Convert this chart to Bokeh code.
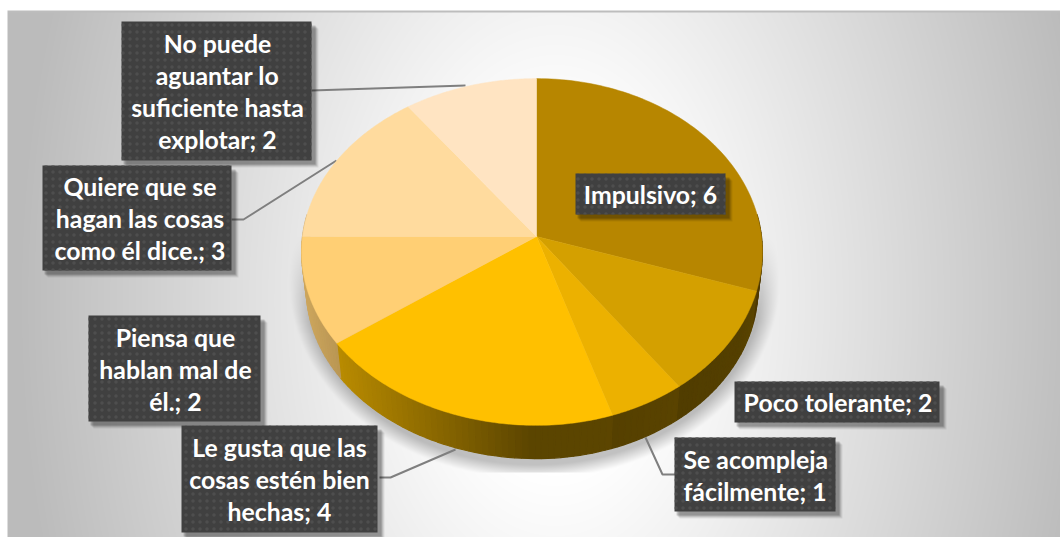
import numpy as np
from bokeh.plotting import figure
from bokeh.models import Range1d
from bokeh.core.properties import value as bk_value
from bokeh.embed import file_html
from bokeh.resources import INLINE

# ---- data ----
categories = ["Impulsivo", "Poco tolerante", "Se acompleja fácilmente",
              "Le gusta que las cosas estén bien hechas", "Piensa que hablan mal de él.",
              "Quiere que se hagan las cosas como él dice.",
              "No puede aguantar lo suficiente hasta explotar"]
values = [6, 2, 1, 4, 2, 3, 2]
slice_colors = ["#b78600", "#d4a000", "#ecb100", "#ffc000", "#ffcf74", "#ffdb9e", "#ffe4c2"]
label_lines = [
    ["Impulsivo; 6"],
    ["Poco tolerante; 2"],
    ["Se acompleja", "fácilmente; 1"],
    ["Le gusta que las", "cosas estén bien", "hechas; 4"],
    ["Piensa que", "hablan mal de", "él.; 2"],
    ["Quiere que se", "hagan las cosas", "como él dice.; 3"],
    ["No puede", "aguantar lo", "suficiente hasta", "explotar; 2"],
]
label_boxes = [(575, 725, 173, 214), (734, 939, 381, 422), (674, 835, 437, 511),
               (181, 377, 425, 532), (88, 260, 315, 421), (42, 231, 165, 270), (121, 311, 21, 160)]
label_align = ["center", "center", "left", "center", "center", "center", "center"]
label_dx = [0, 1, 0, 0, 1, 3, 1]
leaders = [
    ([311, 465], [90, 85]),
    ([231, 243, 336], [219, 219, 160]),
    ([379, 390, 455], [477, 477, 449]),
    ([645, 662, 675], [437, 474, 474]),
]

W, H = 1060, 537
OX, OY = 0, 0
def Y(y):
    return (H + OY) - np.asarray(y, dtype=float)

p = figure(width=W, height=H, output_backend="svg", toolbar_location=None,
           x_range=Range1d(OX, OX + W), y_range=Range1d(0, H), min_border=0)
p.axis.visible = False
p.grid.visible = False
p.outline_line_color = None
p.background_fill_color = "white"
p.border_fill_color = "white"

# ---- background image with gradient + pie shadow ----
xs = np.arange(W) + OX + 0.5
ys = np.arange(H) + OY + 0.5
XX, YY = np.meshgrid(xs, ys)
R = np.sqrt(((XX - 555) / 505) ** 2 + ((YY - 300) / 800) ** 2)
t = np.clip((R - 0.22) / 0.85, 0, 1)
g = 255 - 68 * t
# shadow
es = np.sqrt(((XX - 534) / 245) ** 2 + ((YY - 282) / 196) ** 2)
s = np.clip((1.0 - es) / 0.07, 0, 1)
s *= np.clip((YY - 232) / 90, 0, 1)
s[YY > 471.5] = 0
g = g * (1 - 0.24 * s)
g[YY < 12.5] = 189
g[YY < 10] = 255
g[XX < 7] = 255
gi = np.clip(g, 0, 255).astype(np.uint32)
img = (255 << 24) | (gi << 16) | (gi << 8) | gi
img = img[::-1].astype(np.uint32)  # row 0 = bottom of the data range
p.image_rgba(image=[img], x=[OX], y=[0], dw=[W], dh=[H])

# ---- pie projection ----
CX, CY, A, K = 536.0, 236.0, 172.0, 0.0893
B_RIGHT, B_LEFT = 225.0, 234.0
DROP, SCALE = 37.0, 0.98
def project(theta, bottom=False):
    sn, cs = np.sin(theta), np.cos(theta)
    w = 1 + K * cs
    dx, dy = np.where(sn >= 0, B_RIGHT, B_LEFT) * sn / w, -A * cs / w
    if bottom:
        return CX + SCALE * dx, CY + DROP + SCALE * dy
    return CX + dx, CY + dy

edges = np.concatenate([[0], np.cumsum(values)]) / sum(values) * 2 * np.pi

def hex_rgb(h):
    return np.array([int(h[i:i + 2], 16) for i in (1, 3, 5)], dtype=float)

# leader lines under the pie
for lx, ly in leaders:
    p.line(lx, Y(ly), line_color="#7f7f7f", line_width=2)

# side wall: narrow quads shaded along x
wall_x, wall_y, wall_c = [], [], []
for i, col in enumerate(slice_colors):
    base = hex_rgb(col)
    n = max(4, int((edges[i + 1] - edges[i]) / np.radians(1.5)))
    th = np.linspace(edges[i], edges[i + 1], n + 1)
    for a, b in zip(th[:-1], th[1:]):
        if np.cos((a + b) / 2) > 0.12:
            continue
        xa, ya = project(a); xb, yb = project(b)
        xc, yc = project(b, True); xd, yd = project(a, True)
        mx = (xa + xb) / 2
        shade = np.interp(mx, [304, 340, 430, 530, 600, 740, 766], [.80, .72, .55, .36, .36, .40, .45])
        c = np.clip(base * shade, 0, 255).astype(int)
        wall_x.append([float(v) for v in (xa, xb, xc, xd)])
        wall_y.append(list(Y([ya, yb, yc, yd])))
        wall_c.append("#%02x%02x%02x" % tuple(c))
p.patches(wall_x, wall_y, fill_color=wall_c, line_color=wall_c, line_width=1.2)

# top face
for i, col in enumerate(slice_colors):
    th = np.linspace(edges[i], edges[i + 1], 80)
    px, py = project(th)
    p.patch(np.r_[CX, px], Y(np.r_[CY, py]), fill_color=col, line_color=col, line_width=0.5)

# ---- labels ----
FONT = bk_value("Lato")
for (x0, x1, y0, y1) in label_boxes:
    for off, alpha in [(7, .07), (6, .09), (5, .12), (4, .16)]:
        p.quad(left=x0 + off - 2, right=x1 + off, top=Y(y0 + off), bottom=Y(y1 + off),
               fill_color="#000000", fill_alpha=alpha, line_color=None)
for (x0, x1, y0, y1) in label_boxes:
    p.quad(left=x0, right=x1, top=Y(y0), bottom=Y(y1), fill_color="#404040", line_color=None,
           hatch_pattern="dot", hatch_color="#4e4e4e", hatch_scale=7, hatch_weight=1.5)

LH = 32.0
for lines, (x0, x1, y0, y1), al, dx in zip(label_lines, label_boxes, label_align, label_dx):
    mid = (y0 + y1) / 2
    n = len(lines)
    for j, line in enumerate(lines):
        yc = mid + (j - (n - 1) / 2) * LH + 0.5
        tx = (x0 + x1) / 2 + dx if al == "center" else x0 + 9
        p.text([tx], [float(Y(yc))], text=[line], text_font=FONT, text_font_style="bold",
               text_font_size="24.8px", text_color="#ffffff", text_align=al, text_baseline="middle")

open("out.html", "w").write(file_html(p, INLINE))
